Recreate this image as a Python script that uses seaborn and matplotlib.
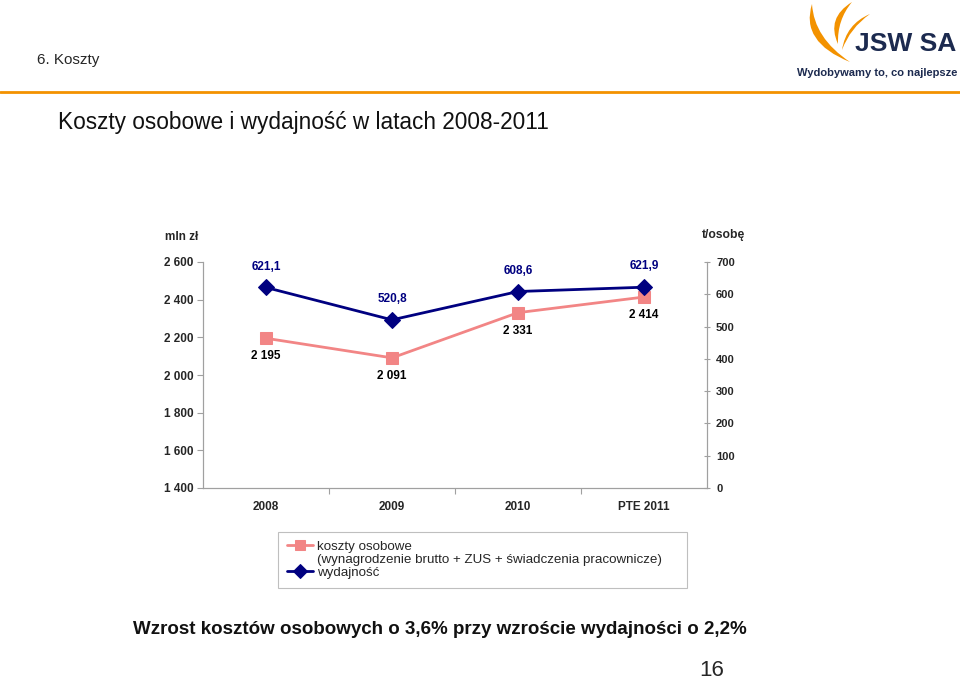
import pandas as pd
import matplotlib
matplotlib.use("Agg")
import matplotlib.pyplot as plt
import seaborn as sns
from matplotlib.ticker import FuncFormatter, FixedLocator
from matplotlib.path import Path
from matplotlib.patches import PathPatch
from matplotlib.lines import Line2D

# ----------------------------
# Data
# ----------------------------
years = ["2008", "2009", "2010", "PTE 2011"]
koszty = [2195, 2091, 2331, 2414]          # mln zł
wydajnosc = [621.1, 520.8, 608.6, 621.9]   # t/osobę
koszty_labels = ["2 195", "2 091", "2 331", "2 414"]
wydajnosc_labels = ["621,1", "520,8", "608,6", "621,9"]
left_ticks = [1400, 1600, 1800, 2000, 2200, 2400, 2600]
right_ticks = [0, 100, 200, 300, 400, 500, 600, 700]

df = pd.DataFrame({"rok": years, "koszty": koszty, "wydajnosc": wydajnosc})

PINK = "#F28585"
NAVY = "#000080"
ORANGE = "#F39200"
LOGO_BLUE = "#1C2A4F"

sns.set_style("white")
plt.rcParams["font.family"] = ["Liberation Sans", "DejaVu Sans"]

fig = plt.figure(figsize=(9.6, 6.81), dpi=100)
ax = fig.add_axes([203 / 960, 1 - 488 / 681, 504 / 960, 226 / 681])
ax2 = ax.twinx()

# ----------------------------
# Lines
# ----------------------------
sns.lineplot(data=df, x="rok", y="koszty", ax=ax, color=PINK, marker="s",
             markersize=9, markeredgecolor=PINK, linewidth=2, sort=False,
             label="koszty osobowe", legend=False)
sns.lineplot(data=df, x="rok", y="wydajnosc", ax=ax2, color=NAVY, marker="D",
             markersize=8, markeredgecolor=NAVY, linewidth=2, sort=False,
             label="wydajność", legend=False)

ax.set_xlim(-0.5, 3.5)
ax.set_ylim(1400, 2600)
ax2.set_ylim(0, 700)

# labels on points
for i, (v, t) in enumerate(zip(koszty, koszty_labels)):
    ax.annotate(t, (i, v), xytext=(0, -13), textcoords="offset points",
                ha="center", va="center", fontsize=8.5, fontweight="bold", color="black")
for i, (v, t) in enumerate(zip(wydajnosc, wydajnosc_labels)):
    ax2.annotate(t, (i, v), xytext=(0, 15), textcoords="offset points",
                 ha="center", va="center", fontsize=8.5, fontweight="bold", color=NAVY)

# ----------------------------
# Axes styling
# ----------------------------
for a in (ax, ax2):
    a.set_xlabel("")
    a.set_ylabel("")
    a.spines["top"].set_visible(False)
    for s in ("left", "right", "bottom"):
        a.spines[s].set_color("#A0A0A0")
        a.spines[s].set_linewidth(0.8)

ax.yaxis.set_major_locator(FixedLocator(left_ticks))
ax.yaxis.set_major_formatter(FuncFormatter(lambda v, p: f"{int(v):,}".replace(",", " ")))
ax.tick_params(axis="y", left=True, length=4, width=0.8, color="#A0A0A0",
               labelsize=8.5, pad=3)
for lbl in ax.get_yticklabels():
    lbl.set_fontweight("bold")

ax2.yaxis.set_major_locator(FixedLocator(right_ticks))
ax2.tick_params(axis="y", right=True, direction="inout", length=5, width=0.8,
                color="#A0A0A0", labelsize=8, pad=4)
for lbl in ax2.get_yticklabels():
    lbl.set_fontweight("bold")

ax.set_xticks(range(len(years)))
ax.set_xticklabels(years)
ax.xaxis.set_minor_locator(FixedLocator([0.5, 1.5, 2.5]))
ax.tick_params(axis="x", which="major", bottom=False, length=0, labelsize=8.5, pad=9)
ax.tick_params(axis="x", which="minor", bottom=True, length=4, width=0.8, color="#A0A0A0")
for lbl in ax.get_xticklabels():
    lbl.set_fontweight("bold")

fig.text(165 / 960, 1 - 237 / 681, "mln zł", fontsize=8.5, fontweight="bold", va="center")
fig.text(702 / 960, 1 - 235 / 681, "t/osobę", fontsize=8.7, fontweight="bold", va="center")

# ----------------------------
# Legend (middle row is the continuation of the first label)
# ----------------------------
h1, l1 = ax.get_legend_handles_labels()
h2, l2 = ax2.get_legend_handles_labels()
blank = Line2D([], [], linestyle="none", marker=None)
leg = fig.legend([h1[0], blank, h2[0]],
                 [l1[0], "(wynagrodzenie brutto + ZUS + świadczenia pracownicze)", l2[0]],
                 loc="upper left",
                 bbox_to_anchor=(278 / 960, 1 - 532 / 681, 409 / 960, 0.0),
                 mode="expand", fontsize=9.6, frameon=True, fancybox=False,
                 labelspacing=0.05, handlelength=2.0, handletextpad=0.25,
                 borderpad=0.65, borderaxespad=0)
leg.get_frame().set_edgecolor("#B0B0B0")
leg.get_frame().set_linewidth(0.8)
for h in leg.legend_handles:
    h.set_markersize(7)

# ----------------------------
# Page decorations
# ----------------------------
def px(x, y):
    return (x / 960, 1 - y / 681)

fig.text(37 / 960, 1 - 60 / 681, "6. Koszty", fontsize=11, va="center")
fig.add_artist(plt.Line2D([0, 1], [1 - 92 / 681, 1 - 92 / 681], color=ORANGE, linewidth=2))

# logo swoosh (rough)
leaves = [
    [(850, 62), (800, 42), (812, 4), (814, 38), (850, 62)],
    [(838, 44), (826, 18), (852, 2), (837, 20), (838, 44)],
    [(842, 50), (846, 24), (870, 14), (850, 28), (842, 50)],
]
codes = [Path.MOVETO, Path.CURVE3, Path.CURVE3, Path.CURVE3, Path.CURVE3]
for pts in leaves:
    path = Path([px(*p) for p in pts], codes)
    fig.add_artist(PathPatch(path, facecolor=ORANGE, edgecolor="none",
                             transform=fig.transFigure))

fig.text(956 / 960, 1 - 44 / 681, "JSW SA", fontsize=19, fontweight="bold",
         color=LOGO_BLUE, va="center", ha="right")
fig.text(957 / 960, 1 - 73 / 681, "Wydobywamy to, co najlepsze", fontsize=8,
         fontweight="bold", color=LOGO_BLUE, va="center", ha="right")
fig.text(58 / 960, 1 - 122 / 681, "Koszty osobowe i wydajność w latach 2008-2011",
         fontsize=16.3, va="center", color="#111111")
fig.text(133 / 960, 1 - 630 / 681,
         "Wzrost kosztów osobowych o 3,6% przy wzroście wydajności o 2,2%",
         fontsize=13.5, fontweight="bold", va="center", color="#111111")
fig.text(712 / 960, 1 - 670 / 681, "16", fontsize=16, va="center", ha="center")

fig.savefig("out.png", dpi=100)
